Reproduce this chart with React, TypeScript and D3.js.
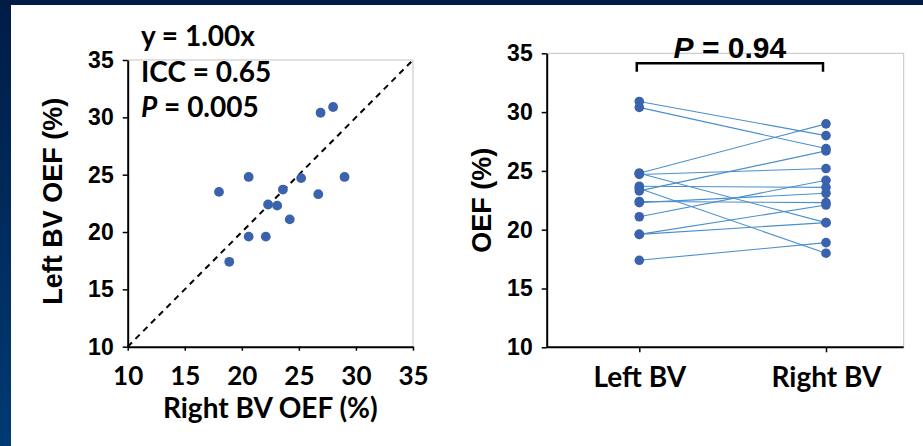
import React, { useEffect, useRef } from 'react';
import * as d3 from 'd3';

// paired OEF values (%) per subject
const rightBV = [18.0, 18.9, 20.6, 20.6, 22.1, 22.3, 23.1, 23.6, 24.2, 25.2, 26.7, 26.9, 28.0, 29.0];
const leftBV = [23.5, 17.4, 24.8, 19.6, 19.6, 22.4, 22.3, 23.7, 21.1, 24.7, 23.3, 30.4, 30.9, 24.8];

const axisTicks = [10, 15, 20, 25, 30, 35];
const groups = ['Left BV', 'Right BV'];
const fitStats = [
  { pre: 'y = 1.00x', italic: '' },
  { pre: 'ICC = 0.65', italic: '' },
  { pre: ' = 0.005', italic: 'P' },
];
const pairedStat = { italic: 'P', rest: ' = 0.94' };

const W = 923;
const H = 446;
const ARIAL = "'Liberation Sans', Arial, sans-serif";
const CALIBRI = "Lato, 'Liberation Sans', sans-serif";
const DOT = '#3a62ad';
const LINK = '#4a8fcc';
const FRAME = '#c3c3c3';

export default function App() {
  const ref = useRef<SVGSVGElement>(null);

  useEffect(() => {
    const svg = d3.select(ref.current);
    svg.selectAll('*').remove();

    // dark slide background with white panel
    const grad = svg.append('defs').append('linearGradient')
      .attr('id', 'slideBg')
      .attr('x1', 0).attr('y1', 0).attr('x2', 0).attr('y2', 1);
    grad.append('stop').attr('offset', '0%').attr('stop-color', '#001c46');
    grad.append('stop').attr('offset', '100%').attr('stop-color', '#003a74');
    svg.append('rect').attr('width', W).attr('height', H).attr('fill', 'url(#slideBg)');
    svg.append('rect').attr('x', 11).attr('y', 5).attr('width', W - 11).attr('height', H - 5).attr('fill', '#fff');

    const styleAxis = (g: any, font: string, size: number) => {
      g.select('.domain').attr('stroke', '#000').attr('stroke-width', 2);
      g.selectAll('.tick line').attr('stroke', '#000').attr('stroke-width', 1.5);
      g.selectAll('.tick text')
        .attr('fill', '#000')
        .attr('font-family', font)
        .attr('font-weight', 'bold')
        .attr('font-size', size);
    };

    // ---------- left: scatter ----------
    const x1 = d3.scaleLinear().domain([10, 35]).range([127.7, 413]);
    const y1 = d3.scaleLinear().domain([10, 35]).range([346.7, 60]);
    const left = svg.append('g');

    left.append('path')
      .attr('d', `M${x1(10)},${y1(35)}H${x1(35)}V${y1(10)}`)
      .attr('fill', 'none').attr('stroke', FRAME).attr('stroke-width', 1);

    const line = d3.line<[number, number]>().x(d => x1(d[0])).y(d => y1(d[1]));
    left.append('path')
      .datum([[10, 10], [35, 35]] as [number, number][])
      .attr('d', line)
      .attr('stroke', '#000').attr('stroke-width', 2).attr('stroke-dasharray', '6,5');

    left.selectAll('circle.pt')
      .data(rightBV.map((r, i) => [r, leftBV[i]]))
      .enter().append('circle')
      .attr('cx', d => x1(d[0])).attr('cy', d => y1(d[1])).attr('r', 4.9)
      .attr('fill', DOT);

    const ax1 = left.append('g').attr('transform', `translate(${x1(10)},0)`)
      .call(d3.axisLeft(y1).tickValues(axisTicks).tickSize(5).tickSizeOuter(0).tickPadding(9));
    styleAxis(ax1, ARIAL, 23);
    const bx1 = left.append('g').attr('transform', `translate(0,${y1(10)})`)
      .call(d3.axisBottom(x1).tickValues(axisTicks).tickSize(4).tickSizeOuter(0).tickPadding(16));
    styleAxis(bx1, CALIBRI, 26);

    left.append('text')
      .attr('transform', `translate(62,${(y1(10) + y1(35)) / 2 - 2}) rotate(-90)`)
      .attr('text-anchor', 'middle')
      .attr('font-family', ARIAL).attr('font-weight', 'bold').attr('font-size', 27)
      .text('Left BV OEF (%)');
    left.append('text')
      .attr('x', (x1(10) + x1(35)) / 2).attr('y', 418)
      .attr('text-anchor', 'middle')
      .attr('font-family', CALIBRI).attr('font-weight', 'bold').attr('font-size', 28)
      .text('Right BV OEF (%)');

    const baselines = [46, 82, 117];
    fitStats.forEach((s, i) => {
      const t = left.append('text')
        .attr('x', 141).attr('y', baselines[i])
        .attr('font-family', CALIBRI).attr('font-weight', 'bold').attr('font-size', 28);
      if (s.italic) t.append('tspan').attr('font-style', 'italic').text(s.italic);
      t.append('tspan').text(s.pre);
    });

    // ---------- right: paired lines ----------
    const x2 = d3.scalePoint<string>().domain(groups).range([639.3, 826]);
    const y2 = d3.scaleLinear().domain([10, 35]).range([347.3, 53.3]);
    const plotRight = 903.7;
    const right = svg.append('g');

    right.append('path')
      .attr('d', `M${546.7},${y2(35)}H${plotRight}V${y2(10)}`)
      .attr('fill', 'none').attr('stroke', FRAME).attr('stroke-width', 1);

    leftBV.forEach((l, i) => {
      right.append('line')
        .attr('x1', x2('Left BV')!).attr('y1', y2(l))
        .attr('x2', x2('Right BV')!).attr('y2', y2(rightBV[i]))
        .attr('stroke', LINK).attr('stroke-width', 1.1);
    });
    right.selectAll('circle.l').data(leftBV).enter().append('circle')
      .attr('cx', x2('Left BV')!).attr('cy', d => y2(d)).attr('r', 4.8).attr('fill', DOT);
    right.selectAll('circle.r').data(rightBV).enter().append('circle')
      .attr('cx', x2('Right BV')!).attr('cy', d => y2(d)).attr('r', 4.8).attr('fill', DOT);

    const ax2 = right.append('g').attr('transform', `translate(546.7,0)`)
      .call(d3.axisLeft(y2).tickValues(axisTicks).tickSize(5).tickSizeOuter(0).tickPadding(9));
    styleAxis(ax2, ARIAL, 23);

    const bx2 = right.append('g').attr('transform', `translate(0,${y2(10)})`)
      .call(d3.axisBottom(x2).tickSize(5).tickSizeOuter(0).tickPadding(15));
    bx2.select('.domain').attr('d', `M546.7,0H${plotRight}`);
    styleAxis(bx2, CALIBRI, 28);

    right.append('text')
      .attr('transform', `translate(491,${(y2(10) + y2(35)) / 2}) rotate(-90)`)
      .attr('text-anchor', 'middle')
      .attr('font-family', ARIAL).attr('font-weight', 'bold').attr('font-size', 27)
      .text('OEF (%)');

    // significance bracket
    const bx0 = x2('Left BV')! - 2.5;
    const bxE = x2('Right BV')! - 3;
    right.append('path')
      .attr('d', `M${bx0},71.7V63.3H${bxE}V71.7`)
      .attr('fill', 'none').attr('stroke', '#000').attr('stroke-width', 2.5);
    const pt = right.append('text')
      .attr('x', (bx0 + bxE) / 2).attr('y', 58.3)
      .attr('text-anchor', 'middle')
      .attr('font-family', ARIAL).attr('font-weight', 'bold').attr('font-size', 30);
    pt.append('tspan').attr('font-style', 'italic').text(pairedStat.italic);
    pt.append('tspan').text(pairedStat.rest);
  }, []);

  return <svg ref={ref} width={W} height={H} style={{ position: 'absolute', left: 0, top: 0 }} />;
}
